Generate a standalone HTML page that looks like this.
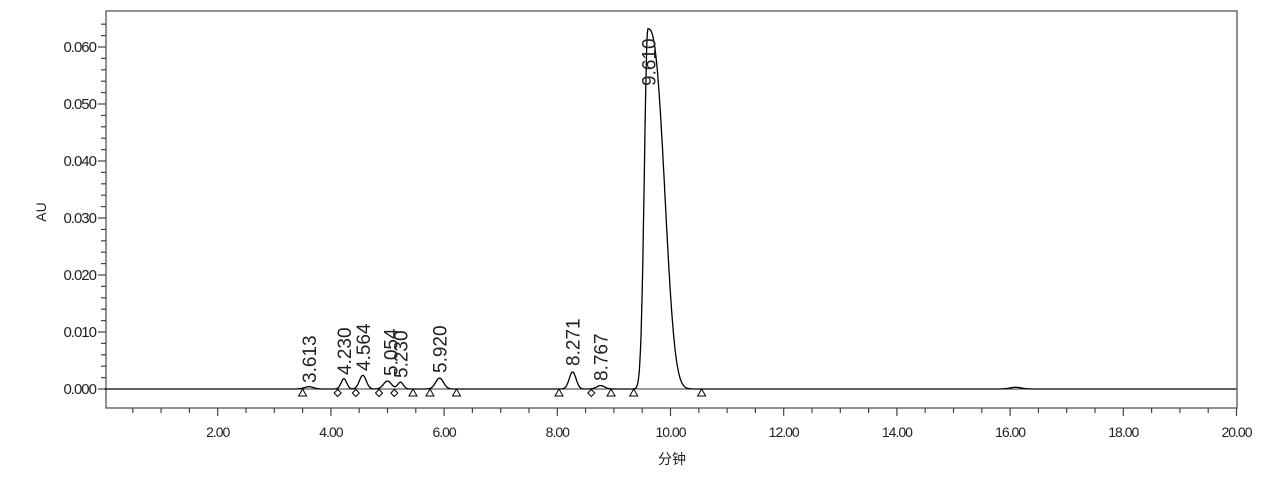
<!DOCTYPE html>
<html><head><meta charset="utf-8"><style>
html,body{margin:0;padding:0;background:#fff;width:1280px;height:487px;overflow:hidden}
text{font-family:"Liberation Sans","Noto Sans CJK SC",sans-serif;fill:#222}
</style></head><body>
<svg id="s" width="1280" height="487" xmlns="http://www.w3.org/2000/svg">
<rect x="106" y="11" width="1131" height="397" fill="none" stroke="#555" stroke-width="1.3"/>
<g id="ticks" stroke="#444" stroke-width="1.2"></g>
<g id="labs" font-size="14" letter-spacing="-1"></g>
<text x="46" y="212" font-size="14" transform="rotate(-90 46 212)" text-anchor="middle">AU</text>
<text x="672" y="464" font-size="14" text-anchor="middle" fill="#555">分钟</text>
<line x1="106" y1="389" x2="1237" y2="389" stroke="#333" stroke-width="1"/>
<path id="trace" fill="none" stroke="#000" stroke-width="1.3"/>
<g id="mk" fill="#fff" stroke="#000" stroke-width="1"></g>
<g id="pl" font-size="19"></g>
</svg>
<script>
var X=function(t){return 104.5+t*56.6},Y=function(v){return 389-v*5700};
var tk='',lb='';
for(var i=0;i<=32;i++){var v=i*0.002,y=Y(v);if(y<12)break;var maj=i%5==0;
tk+='<line x1="'+(maj?98:101)+'" y1="'+y+'" x2="106" y2="'+y+'"/>';
if(maj)lb+='<text x="96" y="'+(y+5)+'" text-anchor="end" font-size="15">'+v.toFixed(3)+'</text>';}
for(var t=0.5;t<=20.01;t+=0.5){var x=X(t),maj=Math.abs(t%2)<0.01;
tk+='<line x1="'+x+'" y1="408" x2="'+x+'" y2="'+(maj?416:413)+'"/>';
if(maj)lb+='<text x="'+x+'" y="437" text-anchor="middle">'+t.toFixed(2)+'</text>';}
document.getElementById('ticks').innerHTML=tk;document.getElementById('labs').innerHTML=lb;
var pk=[[3.613,0.0004,0.08],[4.23,0.0018,0.05],[4.564,0.0024,0.06],[5.0,0.0014,0.07],[5.23,0.0012,0.05],[5.92,0.0019,0.07],[8.271,0.0030,0.06],[8.767,0.0006,0.07],[16.1,0.0003,0.1]];
function f(t){var s=0;for(var k=0;k<pk.length;k++){var p=pk[k];s+=p[1]*Math.exp(-Math.pow(t-p[0],2)/(2*p[2]*p[2]));}
var h=0.0632,a=9.60;
if(t<a)s+=h*Math.exp(-Math.pow(t-a,2)/(2*0.062*0.062));
else s+=h*Math.exp(-Math.pow((t-a)/0.36,2.74));
return s;}
var d='';for(var t=0;t<=20;t+=0.01){d+=(d?'L':'M')+X(t).toFixed(1)+','+Y(f(t)).toFixed(1);}
document.getElementById('trace').setAttribute('d',d);
var mk='',tri=[3.5,5.45,5.75,6.22,8.03,8.95,9.35,10.55],dia=[4.12,4.44,4.85,5.12,8.6];
tri.forEach(function(t){var x=X(t);mk+='<polygon points="'+(x-4)+',396 '+(x+4)+',396 '+x+',389"/>';});
dia.forEach(function(t){var x=X(t);mk+='<polygon points="'+(x-3.5)+',393 '+x+',389.5 '+(x+3.5)+',393 '+x+',396.5"/>';});
document.getElementById('mk').innerHTML=mk;
var L=[[3.613,383],[4.230,375],[4.564,371],[5.054,376],[5.230,378],[5.920,373],[8.271,366],[8.767,381],[9.610,86]];
var pl='';L.forEach(function(l){var x=X(l[0])+7;pl+='<text transform="translate('+x+','+l[1]+') rotate(-90)">'+l[0].toFixed(3)+'</text>';});
document.getElementById('pl').innerHTML=pl;
</script>
</body></html>
